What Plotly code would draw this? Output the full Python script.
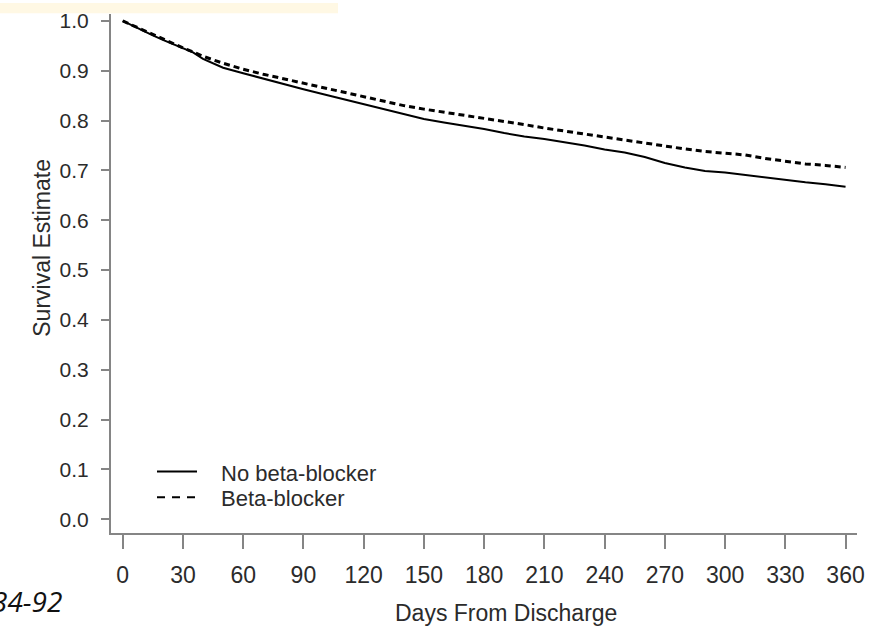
import plotly.graph_objects as go

# ---- data ----
days = [0, 5, 10, 15, 20, 25, 30, 35, 40, 50, 60, 70, 80, 90, 100, 110, 120, 130, 140,
        150, 160, 170, 180, 190, 200, 210, 220, 230, 240, 250, 260, 270, 280, 290, 300,
        310, 320, 330, 340, 350, 360]
no_beta_blocker = [1.000, 0.990, 0.980, 0.971, 0.962, 0.954, 0.946, 0.937, 0.924, 0.906,
                   0.895, 0.884, 0.873, 0.863, 0.853, 0.843, 0.833, 0.822, 0.812,
                   0.803, 0.796, 0.790, 0.783, 0.775, 0.768, 0.763, 0.757, 0.750, 0.742,
                   0.736, 0.727, 0.715, 0.706, 0.699, 0.696, 0.691, 0.685, 0.680, 0.676,
                   0.672, 0.667]
beta_blocker = [1.000, 0.991, 0.981, 0.972, 0.963, 0.954, 0.946, 0.938, 0.929, 0.915,
                0.903, 0.893, 0.884, 0.875, 0.866, 0.856, 0.848, 0.838, 0.830,
                0.823, 0.817, 0.810, 0.805, 0.798, 0.792, 0.785, 0.779, 0.772, 0.767,
                0.761, 0.754, 0.748, 0.743, 0.738, 0.735, 0.731, 0.724, 0.718, 0.713,
                0.710, 0.706]
x_ticks = [0, 30, 60, 90, 120, 150, 180, 210, 240, 270, 300, 330, 360]
y_ticks = [0.0, 0.1, 0.2, 0.3, 0.4, 0.5, 0.6, 0.7, 0.8, 0.9, 1.0]
y_tick_labels = ["0.0", "0.1", "0.2", "0.3", "0.4", "0.5", "0.6", "0.7", "0.8", "0.9", "1.0"]
series_names = ["No beta-blocker", "Beta-blocker"]

# ---- layout geometry (pixels) ----
W, H = 879, 630
L, R, T, B = 111, 857, 9, 533


def px(xp):
    return (xp - L) / (R - L)


def py(yp):
    return (B - yp) / (B - T)


FONT = "Liberation Sans, Arial, sans-serif"
TXT = "#2b2b2b"
AX = "#858585"

fig = go.Figure()
fig.add_trace(go.Scatter(x=days, y=no_beta_blocker, mode="lines", name=series_names[0],
                         line=dict(color="black", width=2), showlegend=False))
fig.add_trace(go.Scatter(x=days, y=beta_blocker, mode="lines", name=series_names[1],
                         line=dict(color="black", width=3, dash="6px,4px"), showlegend=False))

fig.update_layout(
    width=W, height=H,
    margin=dict(l=L, r=W - R, t=T, b=H - B, pad=0),
    paper_bgcolor="white", plot_bgcolor="white",
    showlegend=False,
    xaxis=dict(range=[-5.83, 365.7], tickvals=x_ticks, showgrid=False, zeroline=False,
               showline=True, linecolor=AX, linewidth=2, ticks="outside", ticklen=14,
               tickwidth=2, tickcolor=AX, ticklabelstandoff=6,
               tickfont=dict(family=FONT, size=23, color=TXT)),
    yaxis=dict(range=[-0.0278, 1.0139], tickvals=y_ticks, ticktext=y_tick_labels,
               showgrid=False, zeroline=False, showline=True, linecolor=AX, linewidth=2,
               ticks="outside", ticklen=8, tickwidth=2, tickcolor=AX, ticklabelstandoff=8,
               tickfont=dict(family=FONT, size=21, color=TXT)),
)

# axis titles
fig.add_annotation(x=px(506), y=py(614), xref="paper", yref="paper", text="Days From Discharge",
                   showarrow=False, xanchor="center", yanchor="middle",
                   font=dict(family=FONT, size=23, color=TXT))
fig.add_annotation(x=px(42), y=py(245), xref="paper", yref="paper", text="Survival Estimate",
                   showarrow=False, textangle=-90, xanchor="center", yanchor="middle",
                   font=dict(family=FONT, size=23, color=TXT))

# legend (manual, R style)
leg_rows = [(471, dict(color="black", width=2)), (497, dict(color="black", width=2, dash="8px,7px"))]
for (yrow, ln), name in zip(leg_rows, series_names):
    fig.add_shape(type="line", xref="paper", yref="paper", x0=px(157), x1=px(197),
                  y0=py(yrow), y1=py(yrow), line=ln)
    fig.add_annotation(x=px(219), y=py(yrow + 1.5), xref="paper", yref="paper", text=name,
                       showarrow=False, xanchor="left", yanchor="middle",
                       font=dict(family=FONT, size=22, color=TXT))

# cream band at top-left and partial caption text at bottom-left
fig.add_shape(type="rect", xref="paper", yref="paper", x0=px(-2), x1=px(338), y0=py(8.3),
              y1=py(-2), line=dict(width=0), fillcolor="#FFF8E4", layer="above")
fig.add_annotation(x=px(64), y=py(602), xref="paper", yref="paper", text="<i>34-92</i>",
                   showarrow=False, xanchor="right", yanchor="middle",
                   font=dict(family="Open Sans, Liberation Sans, sans-serif", size=28, color="#111111"))

fig.write_html("out.html", config={"displayModeBar": False},
               post_script="document.body.style.margin='0';document.body.style.overflow='hidden';")
